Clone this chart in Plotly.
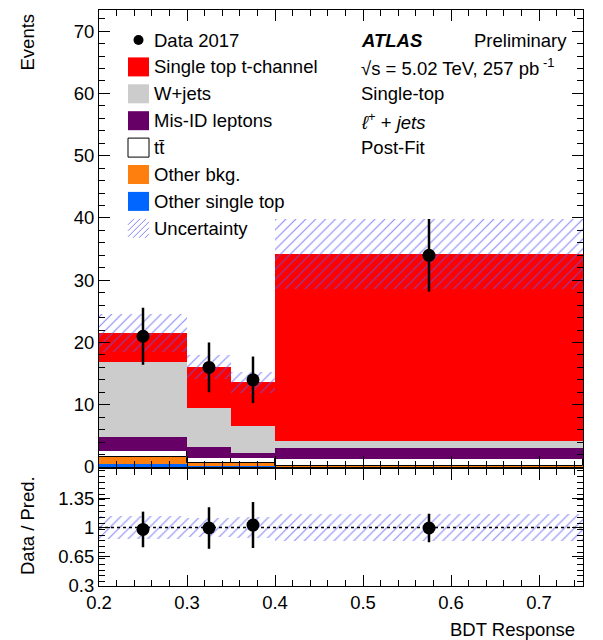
import numpy as np
import plotly.graph_objects as go

# ---------------- data ----------------
bin_edges = [0.2, 0.3, 0.35, 0.4, 0.75]
data_counts = [21, 16, 14, 34]
other_single_top = [0.45, 0.15, 0.15, 0.05]
other_bkg = [1.2, 0.5, 0.45, 0.05]
ttbar = [0.92, 0.8, 0.9, 1.2]
misid = [2.23, 1.75, 0.7, 1.7]
wjets = [12.1, 6.3, 4.4, 1.2]
tchannel = [4.6, 6.6, 7.0, 30.0]
uncertainty = [3.0, 1.9, 1.7, 5.6]

stack_names = ["Other single top", "Other bkg.", "tt̄", "Mis-ID leptons", "W+jets", "Single top t-channel"]
stack_colors = ["#0066ff", "#ff7f0e", "#ffffff", "#660066", "#cccccc", "#ff0000"]
stack_values = [other_single_top, other_bkg, ttbar, misid, wjets, tchannel]

legend_names = ["Data 2017", "Single top t-channel", "W+jets", "Mis-ID leptons", "tt̄",
                "Other bkg.", "Other single top", "Uncertainty"]
legend_colors = [None, "#ff0000", "#cccccc", "#660066", "#ffffff", "#ff7f0e", "#0066ff", None]

y_ticks_main = [0, 10, 20, 30, 40, 50, 60, 70]
y_ticks_ratio = [0.3, 0.65, 1, 1.35]
x_ticks = [0.2, 0.3, 0.4, 0.5, 0.6, 0.7]

# ---------------- derived ----------------
edges = np.array(bin_edges)
centers = 0.5 * (edges[1:] + edges[:-1])
widths = edges[1:] - edges[:-1]
data = np.array(data_counts, dtype=float)
data_err = np.sqrt(data)

FONT = "Liberation Sans, Arial, sans-serif"
TXT = 18.5
HATCH = "rgba(90,90,245,0.75)"

fig = go.Figure()

base = np.zeros(len(centers))
for name, col, vals in zip(stack_names, stack_colors, stack_values):
    vals = np.array(vals, dtype=float)
    line = dict(width=1, color="black") if col == "#ffffff" else dict(width=0)
    fig.add_trace(go.Bar(x=centers, y=vals, base=base, width=widths, marker=dict(color=col, line=line),
                         name=name, showlegend=False, xaxis="x", yaxis="y"))
    base = base + vals
total = base
unc = np.array(uncertainty)

# uncertainty band main
fig.add_trace(go.Bar(x=centers, y=2 * unc, base=total - unc, width=widths,
                     marker=dict(color="rgba(0,0,0,0)", line=dict(width=0),
                                 pattern=dict(shape="/", fgcolor=HATCH, size=7, solidity=0.15, fillmode="replace")),
                     showlegend=False, xaxis="x", yaxis="y"))

# data points
fig.add_trace(go.Scatter(x=centers, y=data, mode="markers",
                         marker=dict(color="black", size=13),
                         error_y=dict(type="data", array=data_err, color="black", thickness=2.5, width=0),
                         showlegend=False, xaxis="x", yaxis="y"))

# ratio panel
rel = unc / total
fig.add_trace(go.Bar(x=centers, y=2 * rel, base=1 - rel, width=widths,
                     marker=dict(color="rgba(0,0,0,0)", line=dict(width=0),
                                 pattern=dict(shape="/", fgcolor=HATCH, size=7, solidity=0.15, fillmode="replace")),
                     showlegend=False, xaxis="x2", yaxis="y2"))
fig.add_trace(go.Scatter(x=[edges[0], edges[-1]], y=[1, 1], mode="lines",
                         line=dict(color="black", width=1.5, dash="dot"), showlegend=False,
                         xaxis="x2", yaxis="y2"))
fig.add_trace(go.Scatter(x=centers, y=data / total, mode="markers",
                         marker=dict(color="black", size=13),
                         error_y=dict(type="data", array=data_err / total, color="black", thickness=2.5, width=0),
                         showlegend=False, xaxis="x2", yaxis="y2"))

# ---------------- layout ----------------
W, H = 603, 640
L, R, T, B = 99, 20, 10, 54
PH = H - T - B
main_bottom_px = 467
ratio_top_px = 469


def py(p):
    return (H - B - p) / PH


def px(p):
    return (p - L) / (W - L - R)


axis_common = dict(showline=True, linecolor="black", linewidth=1, mirror="allticks",
                   ticks="inside", ticklen=11, tickcolor="black", tickwidth=1,
                   showgrid=False, zeroline=False,
                   tickfont=dict(family=FONT, size=18.5, color="black"))

fig.update_layout(
    width=W, height=H, margin=dict(l=L, r=R, t=T, b=B),
    paper_bgcolor="white", plot_bgcolor="white", barmode="overlay", bargap=0,
    font=dict(family=FONT, size=TXT, color="black"),
    xaxis=dict(range=[edges[0], edges[-1]], domain=[0, 1], anchor="y", showticklabels=False,
               tickvals=x_ticks, minor=dict(dtick=0.02, ticklen=6, ticks="inside", tickcolor="black"),
               **axis_common),
    yaxis=dict(range=[0, 73.4], domain=[py(main_bottom_px), 1], anchor="x", tickvals=y_ticks_main,
               minor=dict(dtick=2, ticklen=6, ticks="inside", tickcolor="black"), **axis_common),
    xaxis2=dict(range=[edges[0], edges[-1]], domain=[0, 1], anchor="y2", tickvals=x_ticks,
                ticktext=[f"{v:g}" for v in x_ticks],
                minor=dict(dtick=0.02, ticklen=6, ticks="inside", tickcolor="black"), **axis_common),
    yaxis2=dict(range=[0.3, 1.7], domain=[0, py(ratio_top_px)], anchor="x2", tickvals=y_ticks_ratio,
                ticktext=[f"{v:g}" for v in y_ticks_ratio],
                minor=dict(dtick=0.07, ticklen=6, ticks="inside", tickcolor="black"), **axis_common),
)

shapes = []
annotations = []

# legend
row0 = 40
dy = 26.9
bx0, bx1 = 128, 149
for i, (nm, col) in enumerate(zip(legend_names, legend_colors)):
    yc = row0 + i * dy
    if i == 0:
        shapes.append(dict(type="circle", xref="paper", yref="paper", x0=px(133.5), x1=px(143.5),
                           y0=py(yc + 5), y1=py(yc - 5), fillcolor="black", line=dict(width=0)))
    elif nm == "Uncertainty":
        y0, y1 = yc - 9.5, yc + 9.5
        step = 6
        k = bx0 - (y1 - y0)
        while k < bx1:
            xa, ya = k, y1
            xb, yb = k + (y1 - y0), y0
            if xa < bx0:
                ya = ya - (bx0 - xa)
                xa = bx0
            if xb > bx1:
                yb = yb + (xb - bx1)
                xb = bx1
            if xb > xa:
                shapes.append(dict(type="line", xref="paper", yref="paper", x0=px(xa), x1=px(xb),
                                   y0=py(ya), y1=py(yb), line=dict(color=HATCH, width=1)))
            k += step
    else:
        line = dict(width=1, color="black") if col == "#ffffff" else dict(width=0)
        shapes.append(dict(type="rect", xref="paper", yref="paper", x0=px(bx0), x1=px(bx1),
                           y0=py(yc + 9.5), y1=py(yc - 9.5), fillcolor=col, line=line))
    annotations.append(dict(text=nm, xref="paper", yref="paper", x=px(152), y=py(yc),
                            xanchor="left", yanchor="middle", showarrow=False,
                            font=dict(family=FONT, size=TXT, color="black")))

# ATLAS labels
annotations.append(dict(text="<b><i>ATLAS</i></b>", xref="paper", yref="paper", x=px(359), y=py(40),
                        xanchor="left", yanchor="middle", showarrow=False, font=dict(family=FONT, size=TXT)))
annotations.append(dict(text="Preliminary", xref="paper", yref="paper", x=px(569), y=py(40),
                        xanchor="right", yanchor="middle", showarrow=False, font=dict(family=FONT, size=TXT)))
info = ["√s = 5.02 TeV, 257 pb<sup> -1</sup>", "Single-top", "<i>ℓ</i><sup>+</sup> + <i>jets</i>", "Post-Fit"]
for i, t in enumerate(info):
    annotations.append(dict(text=t, xref="paper", yref="paper", x=px(359), y=py(67 + i * 26.9),
                            xanchor="left", yanchor="middle", showarrow=False, font=dict(family=FONT, size=TXT)))

# axis titles
annotations.append(dict(text="Events", xref="paper", yref="paper", x=px(27), y=py(12),
                        xanchor="center", yanchor="top", textangle=-90, showarrow=False,
                        font=dict(family=FONT, size=TXT)))
annotations.append(dict(text="Data / Pred.", xref="paper", yref="paper", x=px(27), y=py(526),
                        xanchor="center", yanchor="middle", textangle=-90, showarrow=False,
                        font=dict(family=FONT, size=TXT)))
annotations.append(dict(text="BDT Response", xref="paper", yref="paper", x=px(577), y=py(629),
                        xanchor="right", yanchor="middle", showarrow=False,
                        font=dict(family=FONT, size=TXT)))

fig.update_layout(shapes=shapes, annotations=annotations)
fig.write_html("out.html")
